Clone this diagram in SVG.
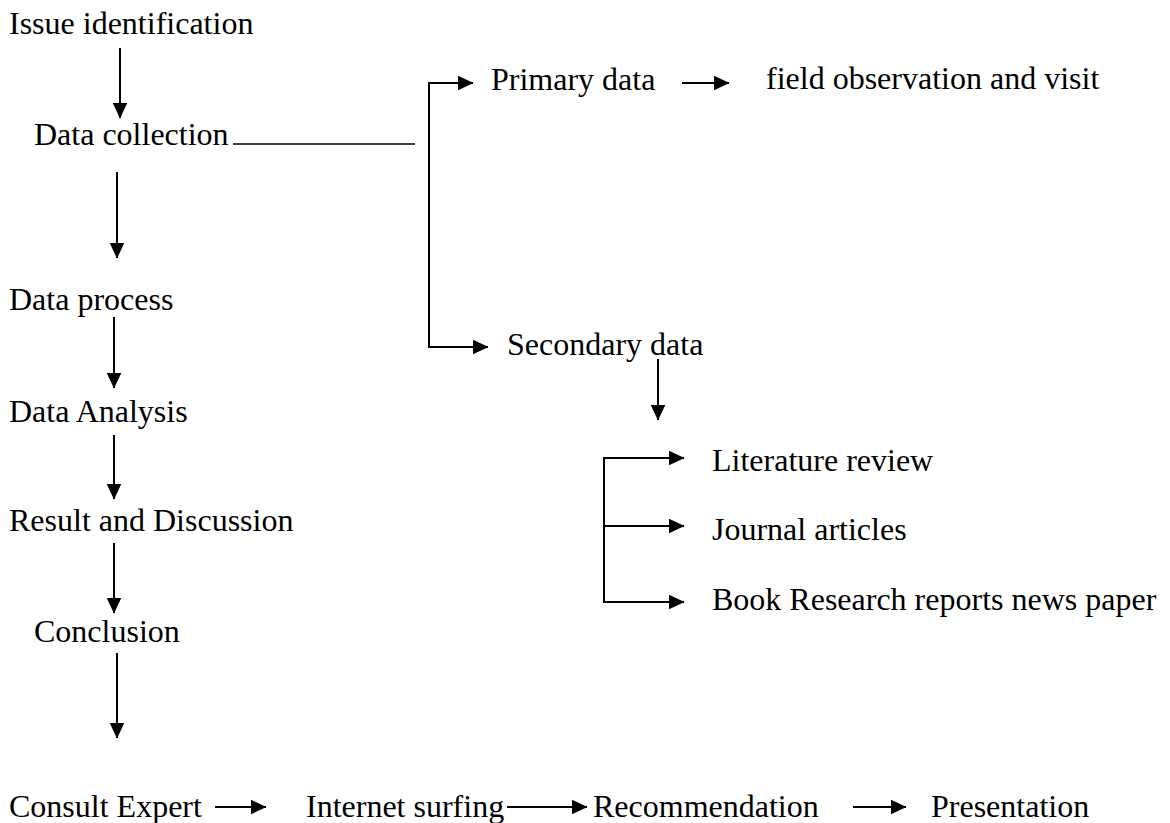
<svg xmlns="http://www.w3.org/2000/svg" width="1170" height="823" viewBox="0 0 1170 823">
  <style>
    text { font-family: 'Liberation Serif', Times, serif; font-size: 32px; fill: #000; }
    .ln { stroke: #000; stroke-width: 2; fill: none; }
    .arr { stroke: #000; stroke-width: 2; fill: none; marker-end: url(#ah); }
  </style>
  <defs>
    <marker id="ah" markerUnits="userSpaceOnUse" markerWidth="17" markerHeight="16" refX="15.5" refY="7.5" orient="auto">
      <path d="M0,0 L16,7.5 L0,15 z" fill="#000"/>
    </marker>
  </defs>
  <rect width="1170" height="823" fill="#fff"/>

  <g id="n-issue"><text x="9" y="34">Issue identification</text></g>
  <g id="n-collection"><text x="34" y="145">Data collection</text></g>
  <g id="n-process"><text x="9" y="310">Data process</text></g>
  <g id="n-analysis"><text x="9" y="422">Data Analysis</text></g>
  <g id="n-result"><text x="9" y="531">Result and Discussion</text></g>
  <g id="n-conclusion"><text x="34" y="642">Conclusion</text></g>
  <g id="n-consult"><text x="9" y="817">Consult Expert</text></g>
  <g id="n-internet"><text x="306" y="817">Internet surfing</text></g>
  <g id="n-recommendation"><text x="593" y="817">Recommendation</text></g>
  <g id="n-presentation"><text x="931" y="817">Presentation</text></g>
  <g id="n-primary"><text x="491" y="90">Primary data</text></g>
  <g id="n-field"><text x="766" y="89">field observation and visit</text></g>
  <g id="n-secondary"><text x="507" y="355">Secondary data</text></g>
  <g id="n-literature"><text x="712" y="471">Literature review</text></g>
  <g id="n-journal"><text x="712" y="540">Journal articles</text></g>
  <g id="n-book"><text x="712" y="610">Book Research reports news paper</text></g>

  <g id="connectors">
    <line class="arr" x1="120" y1="48" x2="120" y2="118"/>
    <line class="arr" x1="117" y1="172" x2="117" y2="258"/>
    <line class="arr" x1="114" y1="317" x2="114" y2="388"/>
    <line class="arr" x1="114" y1="435" x2="114" y2="499"/>
    <line class="arr" x1="114" y1="543" x2="114" y2="613"/>
    <line class="arr" x1="117" y1="653" x2="117" y2="738"/>

    <line class="ln" x1="233" y1="144" x2="415" y2="144" style="stroke-width:1.5"/>
    <line class="ln" x1="429" y1="82" x2="429" y2="348"/>
    <line class="arr" x1="428" y1="83" x2="473" y2="83"/>
    <line class="arr" x1="428" y1="347" x2="488" y2="347"/>
    <line class="arr" x1="682" y1="83" x2="729" y2="83"/>

    <line class="arr" x1="658" y1="359" x2="658" y2="420"/>
    <line class="ln" x1="604" y1="457" x2="604" y2="603"/>
    <line class="arr" x1="603" y1="458" x2="684" y2="458"/>
    <line class="arr" x1="604" y1="526" x2="684" y2="526"/>
    <line class="arr" x1="603" y1="602" x2="684" y2="602"/>

    <line class="arr" x1="215" y1="807" x2="266" y2="807"/>
    <line class="arr" x1="507" y1="807" x2="587" y2="807"/>
    <line class="arr" x1="853" y1="807" x2="906" y2="807"/>
  </g>
</svg>
